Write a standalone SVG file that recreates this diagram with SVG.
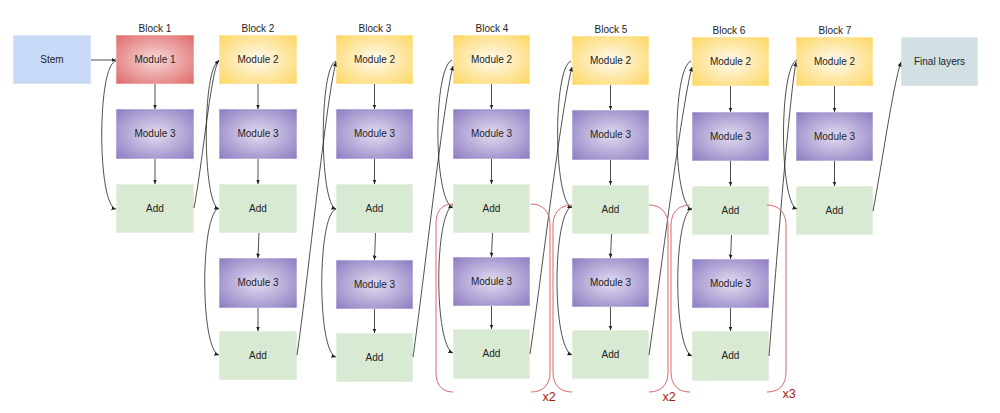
<svg xmlns="http://www.w3.org/2000/svg" width="1000" height="413" viewBox="0 0 1000 413">
<style>
.box{stroke:#ffffff;stroke-opacity:0.55;stroke-width:1}
.stem{fill:#c9daf8}
.fin{fill:#d0e0e3}
.add{fill:#d9ead3}
.m1{fill:url(#gM1)}
.m2{fill:url(#gM2)}
.m3{fill:url(#gM3)}
text{font-family:"Liberation Sans",Arial,sans-serif;font-size:10px;fill:#222;text-anchor:middle}
.rep{font-size:12.5px;fill:#a61c00}
.c{fill:none;stroke:#222;stroke-width:0.8;marker-end:url(#ah)}
.br{fill:none;stroke:#d9676a;stroke-width:1}
</style>
<defs>
<radialGradient id="gM1" cx="50%" cy="50%" r="72%"><stop offset="0" stop-color="#f7d9d9"/><stop offset="1" stop-color="#df6666"/></radialGradient>
<radialGradient id="gM2" cx="50%" cy="50%" r="72%"><stop offset="0" stop-color="#fffaf0"/><stop offset="1" stop-color="#fdd55c"/></radialGradient>
<radialGradient id="gM3" cx="50%" cy="50%" r="72%"><stop offset="0" stop-color="#e2dcf0"/><stop offset="1" stop-color="#8a78c0"/></radialGradient>
<marker id="ah" markerUnits="userSpaceOnUse" markerWidth="5" markerHeight="5" refX="4.5" refY="2.5" orient="auto"><path d="M0,0.5 L4.5,2.5 L0,4.5 z" fill="#222"/></marker>
</defs>

<g id="titles">
<text x="155" y="32">Block 1</text>
<text x="258" y="32">Block 2</text>
<text x="375" y="32">Block 3</text>
<text x="492" y="32">Block 4</text>
<text x="611" y="33">Block 5</text>
<text x="729" y="34">Block 6</text>
<text x="835" y="34">Block 7</text>
</g>

<g id="stem"><rect class="box stem" x="13" y="35" width="78" height="49"/><text x="52" y="63">Stem</text></g>
<g id="final"><rect class="box fin" x="901" y="37" width="77" height="49"/><text x="939.5" y="65">Final layers</text></g>

<g id="b1-m1"><rect class="box m1" x="116" y="35" width="78" height="49"/><text x="155" y="63">Module 1</text></g>
<g id="b1-m3"><rect class="box m3" x="116" y="109" width="78" height="50"/><text x="155" y="137">Module 3</text></g>
<g id="b1-add"><rect class="box add" x="116" y="184" width="78" height="49"/><text x="155" y="212">Add</text></g>

<g id="b2-m2"><rect class="box m2" x="219" y="35" width="78" height="49"/><text x="258" y="63">Module 2</text></g>
<g id="b2-m3a"><rect class="box m3" x="219" y="109" width="78" height="50"/><text x="258" y="137">Module 3</text></g>
<g id="b2-add1"><rect class="box add" x="219" y="184" width="78" height="49"/><text x="258" y="212">Add</text></g>
<g id="b2-m3b"><rect class="box m3" x="219" y="258" width="78" height="50"/><text x="258" y="286">Module 3</text></g>
<g id="b2-add2"><rect class="box add" x="219" y="331" width="78" height="49"/><text x="258" y="359">Add</text></g>

<g id="b3-m2"><rect class="box m2" x="336" y="35" width="77" height="49"/><text x="374.5" y="63">Module 2</text></g>
<g id="b3-m3a"><rect class="box m3" x="336" y="109" width="77" height="50"/><text x="374.5" y="137">Module 3</text></g>
<g id="b3-add1"><rect class="box add" x="336" y="184" width="77" height="49"/><text x="374.5" y="212">Add</text></g>
<g id="b3-m3b"><rect class="box m3" x="336" y="260" width="77" height="49"/><text x="374.5" y="288">Module 3</text></g>
<g id="b3-add2"><rect class="box add" x="336" y="333" width="77" height="49"/><text x="374.5" y="361">Add</text></g>

<g id="b4-m2"><rect class="box m2" x="453" y="35" width="77" height="49"/><text x="491.5" y="63">Module 2</text></g>
<g id="b4-m3a"><rect class="box m3" x="453" y="109" width="77" height="50"/><text x="491.5" y="137">Module 3</text></g>
<g id="b4-add1"><rect class="box add" x="453" y="184" width="77" height="49"/><text x="491.5" y="212">Add</text></g>
<g id="b4-m3b"><rect class="box m3" x="453" y="257" width="77" height="49"/><text x="491.5" y="285">Module 3</text></g>
<g id="b4-add2"><rect class="box add" x="453" y="329" width="77" height="50"/><text x="491.5" y="357">Add</text></g>

<g id="b5-m2"><rect class="box m2" x="572" y="36" width="77" height="49"/><text x="610.5" y="64">Module 2</text></g>
<g id="b5-m3a"><rect class="box m3" x="572" y="110" width="77" height="50"/><text x="610.5" y="138">Module 3</text></g>
<g id="b5-add1"><rect class="box add" x="572" y="185" width="77" height="49"/><text x="610.5" y="213">Add</text></g>
<g id="b5-m3b"><rect class="box m3" x="572" y="258" width="77" height="49"/><text x="610.5" y="286">Module 3</text></g>
<g id="b5-add2"><rect class="box add" x="572" y="330" width="77" height="49"/><text x="610.5" y="358">Add</text></g>

<g id="b6-m2"><rect class="box m2" x="692" y="37" width="77" height="49"/><text x="730.5" y="65">Module 2</text></g>
<g id="b6-m3a"><rect class="box m3" x="692" y="112" width="77" height="49"/><text x="730.5" y="140">Module 3</text></g>
<g id="b6-add1"><rect class="box add" x="692" y="186" width="77" height="49"/><text x="730.5" y="214">Add</text></g>
<g id="b6-m3b"><rect class="box m3" x="692" y="259" width="77" height="49"/><text x="730.5" y="287">Module 3</text></g>
<g id="b6-add2"><rect class="box add" x="692" y="331" width="77" height="50"/><text x="730.5" y="359">Add</text></g>

<g id="b7-m2"><rect class="box m2" x="796" y="37" width="77" height="49"/><text x="834.5" y="65">Module 2</text></g>
<g id="b7-m3"><rect class="box m3" x="796" y="112" width="77" height="49"/><text x="834.5" y="140">Module 3</text></g>
<g id="b7-add"><rect class="box add" x="796" y="186" width="77" height="49"/><text x="834.5" y="214">Add</text></g>

<g id="connectors">
<path class="c" d="M91,60 L116,60"/>
<path class="c" d="M116,61 C97,64 97,206 116,209"/>
<path class="c" d="M155,84 L155,109"/>
<path class="c" d="M155,159 L155,184"/>
<path class="c" d="M194,208 C203,160 211,70 219,60"/>

<path class="c" d="M219,61 C202,66 202,204 219,209"/>
<path class="c" d="M258,84 L258,109"/>
<path class="c" d="M258,159 L258,184"/>
<path class="c" d="M259,233 L258,258"/>
<path class="c" d="M258,308 L258,331"/>
<path class="c" d="M219,208 C200,214 200,350 219,355"/>
<path class="c" d="M297,355 C308,280 326,100 336,62"/>

<path class="c" d="M336,61 C319,66 319,204 336,209"/>
<path class="c" d="M374.5,84 L374.5,109"/>
<path class="c" d="M374.5,159 L374.5,184"/>
<path class="c" d="M375.5,233 L374.5,260"/>
<path class="c" d="M374.5,309 L374.5,333"/>
<path class="c" d="M336,209 C317,215 317,352 336,357"/>
<path class="c" d="M413,357 C424,280 443,105 453,66"/>

<path class="c" d="M452,60 C433,68 433,200 453,208"/>
<path class="c" d="M491.5,84 L491.5,109"/>
<path class="c" d="M491.5,159 L491.5,184"/>
<path class="c" d="M492.5,233 L491.5,257"/>
<path class="c" d="M491.5,306 L491.5,329"/>
<path class="c" d="M453,205 C434,214 434,345 453,353"/>
<path class="c" d="M530,354 C541,280 561,108 572,67"/>

<path class="c" d="M571,61 C553,68 553,200 572,208"/>
<path class="c" d="M610.5,85 L610.5,110"/>
<path class="c" d="M610.5,160 L610.5,185"/>
<path class="c" d="M611.5,234 L610.5,258"/>
<path class="c" d="M610.5,307 L610.5,330"/>
<path class="c" d="M572,206 C552,214 552,347 572,355"/>
<path class="c" d="M649,355 C660,280 681,108 692,67"/>

<path class="c" d="M691,61 C672,69 672,202 692,210"/>
<path class="c" d="M730.5,86 L730.5,112"/>
<path class="c" d="M730.5,161 L730.5,186"/>
<path class="c" d="M731.5,235 L730.5,259"/>
<path class="c" d="M730.5,308 L730.5,331"/>
<path class="c" d="M692,208 C673,216 673,348 692,356"/>
<path class="c" d="M769,356 C775,280 789,100 796,62"/>

<path class="c" d="M797,60 C779,66 779,203 797,209"/>
<path class="c" d="M834.5,86 L834.5,112"/>
<path class="c" d="M834.5,161 L834.5,186"/>
<path class="c" d="M873,211 C881,170 893,85 901,62"/>
</g>

<g id="repeat-brackets">
<path class="br" d="M453,204 C441,204 436,212 436,224 L436,372 C436,385 442,392 453,392"/>
<path class="br" d="M531,204 C543,204 550,212 550,224 L550,372 C550,385 543,392 531,392"/>
<text class="rep" x="549" y="401">x2</text>
<path class="br" d="M572,205 C560,205 553,213 553,225 L553,372 C553,385 560,392 572,392"/>
<path class="br" d="M649,205 C661,205 668,213 668,225 L668,372 C668,385 661,392 649,392"/>
<text class="rep" x="669" y="401">x2</text>
<path class="br" d="M690,205 C678,205 671,213 671,225 L671,372 C671,385 678,392 690,392"/>
<path class="br" d="M767,205 C779,205 786,213 786,225 L786,372 C786,385 779,392 767,392"/>
<text class="rep" x="789" y="398">x3</text>
</g>
</svg>
